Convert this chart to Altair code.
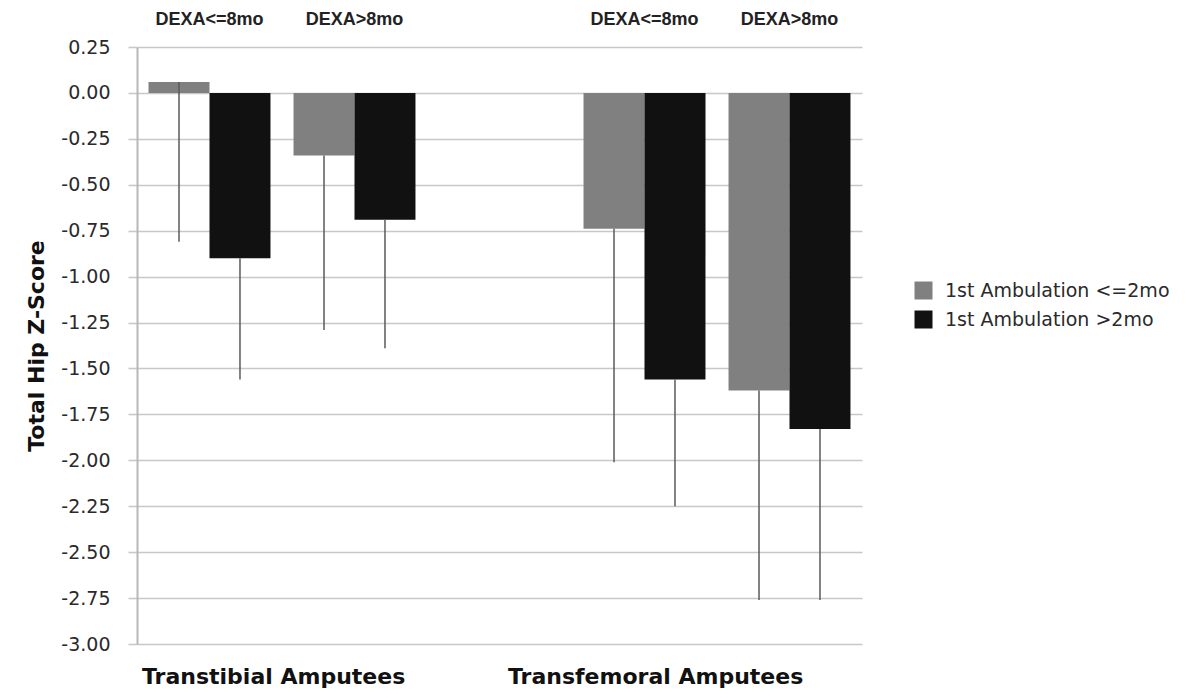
import altair as alt
import pandas as pd

# ---- data ----
slots = [
    "Transtibial Amputees|DEXA<=8mo",
    "Transtibial Amputees|DEXA>8mo",
    " ",
    "Transfemoral Amputees|DEXA<=8mo",
    "Transfemoral Amputees|DEXA>8mo",
]
bar_slots = [slots[0], slots[1], slots[3], slots[4]]
series_names = ["1st Ambulation <=2mo", "1st Ambulation >2mo"]

mean_le2 = [0.06, -0.34, -0.74, -1.62]
mean_gt2 = [-0.90, -0.69, -1.56, -1.83]
low_le2 = [-0.81, -1.29, -2.01, -2.76]
low_gt2 = [-1.56, -1.39, -2.25, -2.76]

y_ticks = [0.25, 0.0, -0.25, -0.5, -0.75, -1.0, -1.25, -1.5, -1.75, -2.0,
           -2.25, -2.5, -2.75, -3.0]

group_labels = ["Transtibial Amputees", "Transfemoral Amputees"]

rows = []
for i, s in enumerate(bar_slots):
    rows.append({"slot": s, "series": series_names[0], "mean": mean_le2[i], "low": low_le2[i]})
    rows.append({"slot": s, "series": series_names[1], "mean": mean_gt2[i], "low": low_gt2[i]})
df = pd.DataFrame(rows)

W, H = 725, 597

x_enc = alt.X(
    "slot:N",
    scale=alt.Scale(domain=slots, paddingInner=0, paddingOuter=0),
    axis=alt.Axis(
        orient="top", title=None, ticks=False, domain=False, grid=False,
        labelAngle=0,
        labelExpr="indexof(datum.label, '|') >= 0 ? split(datum.label, '|')[1] : ''",
        labelFont="Liberation Sans", labelFontWeight="bold", labelFontSize=18,
        labelColor="#222222", labelPadding=19,
    ),
)
xoff_enc = alt.XOffset(
    "series:N",
    scale=alt.Scale(domain=series_names, paddingInner=0, paddingOuter=0.189),
)
y_scale = alt.Scale(domain=[-3.0, 0.25], nice=False, zero=False)
y_enc = alt.Y(
    "mean:Q",
    scale=y_scale,
    axis=alt.Axis(
        values=y_ticks,
        labelExpr="replace(format(datum.value, '.2f'), '\u2212', '-')",
        grid=True, gridColor="#c8c8c8", gridWidth=1.6,
        tickColor="#c8c8c8", tickSize=9, tickWidth=1.6,
        domainColor="#b8b8b8", domainWidth=2,
        labelFont="DejaVu Sans", labelFontSize=19, labelColor="#2a2a2a",
        labelPadding=18,
        title="Total Hip Z-Score", titleFont="DejaVu Sans", titleFontSize=22,
        titleFontWeight="bold", titleColor="#111111", titlePadding=12,
    ),
)

color_enc = alt.Color(
    "series:N",
    scale=alt.Scale(domain=series_names, range=["#808080", "#111111"]),
    legend=alt.Legend(
        title=None, orient="none", legendX=777, legendY=234,
        symbolType="square", symbolSize=324, symbolStrokeWidth=0,
        symbolOpacity=1, labelLimit=0,
        labelFont="DejaVu Sans", labelFontSize=19, labelColor="#2a2a2a",
        labelOffset=12, rowPadding=9, padding=0,
    ),
)

bars = alt.Chart(df).mark_bar(opacity=1).encode(
    x=x_enc, xOffset=xoff_enc, y=y_enc, y2=alt.datum(0), color=color_enc
)

errs = alt.Chart(df).mark_rule(color="#5a5a5a", strokeWidth=1.5).encode(
    x=x_enc, xOffset=xoff_enc, y=alt.Y("mean:Q", scale=y_scale), y2="low:Q"
)

lab_df = pd.DataFrame({"slot": [slots[0], slots[2]], "label": group_labels, "y": [-3.0, -3.0]})
lab1 = alt.Chart(lab_df.iloc[[0]]).mark_text(
    align="left", baseline="middle", dx=5, dy=33,
    font="DejaVu Sans", fontWeight="bold", fontSize=22, color="#111111",
).encode(x=alt.X("slot:N", bandPosition=0), y=alt.Y("y:Q", scale=y_scale), text="label:N")
lab2 = alt.Chart(lab_df.iloc[[1]]).mark_text(
    align="left", baseline="middle", dx=81, dy=33,
    font="DejaVu Sans", fontWeight="bold", fontSize=22, color="#111111",
).encode(x=alt.X("slot:N", bandPosition=0), y=alt.Y("y:Q", scale=y_scale), text="label:N")

chart = alt.layer(bars, errs, lab1, lab2).properties(
    width=W, height=H,
    autosize=alt.AutoSizeParams(type="none"),
    padding={"left": 129, "top": 39, "right": 316, "bottom": 46},
    background="white",
).configure_view(stroke=None)

chart.save("out.html", embed_options={"renderer": "svg", "actions": False})
